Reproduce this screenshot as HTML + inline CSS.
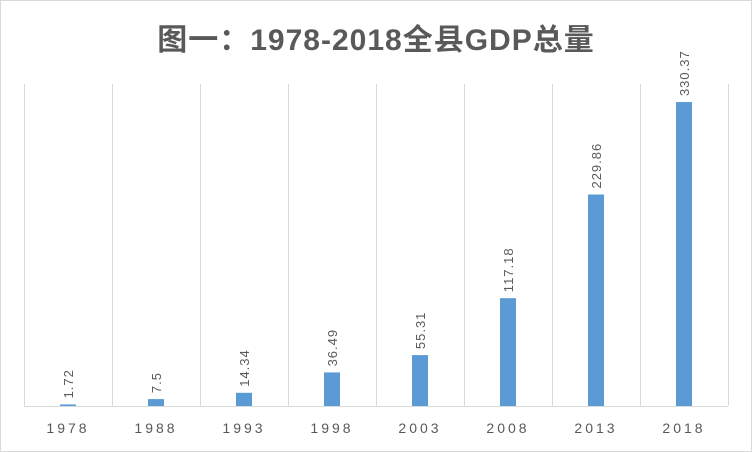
<!DOCTYPE html>
<html><head><meta charset="utf-8"><style>
body{margin:0;background:#fff}
svg{display:block;font-family:"Liberation Sans","Noto Sans CJK SC",sans-serif}
</style></head><body>
<svg id="c" width="752" height="452">
<rect x="0.5" y="0.5" width="751" height="451" fill="#fff" stroke="#d9d9d9"/>
<text x="376" y="50" text-anchor="middle" font-size="30" font-weight="bold" fill="#595959" letter-spacing="1">图一：1978-2018全县GDP总量</text>
<g id="grid"></g><g id="bars"></g><g id="labels"></g><g id="xt"></g>
</svg>
<script>
const categories=["1978","1988","1993","1998","2003","2008","2013","2018"];
const values=[1.72,7.5,14.34,36.49,55.31,117.18,229.86,330.37];
const valueLabels=["1.72","7.5","14.34","36.49","55.31","117.18","229.86","330.37"];
const yMax=350;
const L=24,W=88,B=406,T=84,NS="http://www.w3.org/2000/svg";
const x=i=>L+i*W, y=v=>B-(v/yMax)*(B-T);
function mk(t,a,p){const e=document.createElementNS(NS,t);for(const k in a)e.setAttribute(k,a[k]);p.appendChild(e);return e;}
const g=document.getElementById('grid'),bs=document.getElementById('bars'),lb=document.getElementById('labels'),xt=document.getElementById('xt');
for(let i=0;i<=categories.length;i++){const l=mk('line',{x1:x(i)+.5,x2:x(i)+.5,y1:T,y2:B,stroke:'#d9d9d9'},g);

}
const ax=mk('line',{x1:L,x2:x(categories.length),y1:B+.5,y2:B+.5,stroke:'#d9d9d9'},g);


values.forEach((v,i)=>{const cx=x(i)+W/2;
const r=mk('rect',{x:cx-8,y:y(v),width:16,height:B-y(v),fill:'#5b9bd5'},bs);


const t=mk('text',{x:0,y:0,transform:`translate(${cx+5},${y(v)-6}) rotate(-90)`,'font-size':13,fill:'#595959','letter-spacing':'1'},lb);
t.textContent=valueLabels[i];


const c=mk('text',{x:cx,y:433,'text-anchor':'middle','font-size':14,fill:'#595959','letter-spacing':'3'},xt);
c.textContent=categories[i];

});
</script>
</body></html>
